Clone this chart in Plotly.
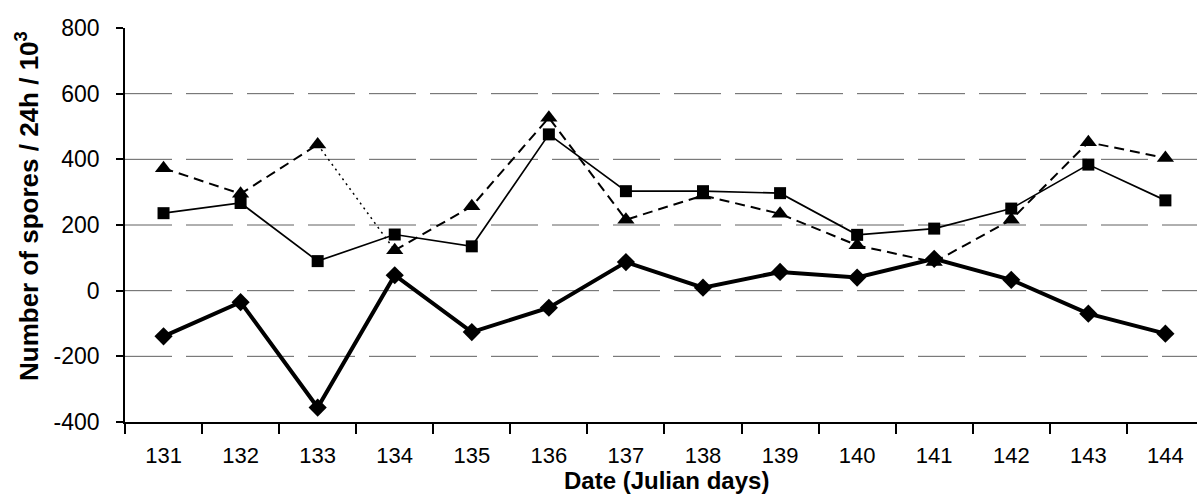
import plotly.graph_objects as go

days = ["131", "132", "133", "134", "135", "136", "137", "138", "139", "140", "141", "142", "143", "144"]
squares = [236, 267, 90, 171, 135, 476, 303, 303, 297, 170, 189, 250, 384, 275]
triangles = [373, 295, 445, 123, 257, 527, 216, 290, 234, 138, 87, 216, 452, 404]
diamonds = [-139, -35, -356, 47, -126, -52, 87, 9, 57, 40, 97, 33, -70, -131]
y_ticks = [-400, -200, 0, 200, 400, 600, 800]
y_tick_text = ["-400", "-200", "0", "200", "400", "600", "800"]
grid_levels = [-200, 0, 200, 400, 600]

W, H = 1197, 495
L, R, T, B = 125, 0, 28, 73
pw = W - L - R
ph = H - T - B

fig = go.Figure()

# Triangle series: dashed, with a dotted segment 133-134
fig.add_trace(go.Scatter(x=days[:3], y=triangles[:3], mode="lines",
                         line=dict(color="black", width=2, dash="10px,6px"), showlegend=False))
fig.add_trace(go.Scatter(x=days[2:4], y=triangles[2:4], mode="lines",
                         line=dict(color="black", width=1.5, dash="2px,4px"), showlegend=False))
fig.add_trace(go.Scatter(x=days[3:], y=triangles[3:], mode="lines",
                         line=dict(color="black", width=2, dash="10px,6px"), showlegend=False))
fig.add_trace(go.Scatter(x=days, y=triangles, mode="markers",
                         marker=dict(symbol="triangle-up", size=15, color="black"), showlegend=False))

# Square series: thin solid
fig.add_trace(go.Scatter(x=days, y=squares, mode="lines+markers",
                         line=dict(color="black", width=1.7),
                         marker=dict(symbol="square", size=12, color="black"), showlegend=False))

# Diamond series: thick solid
fig.add_trace(go.Scatter(x=days, y=diamonds, mode="lines+markers",
                         line=dict(color="black", width=4),
                         marker=dict(symbol="diamond", size=14, color="black"), showlegend=False))

for g in grid_levels:
    fig.add_shape(type="line", xref="paper", yref="y", x0=0, x1=1, y0=g, y1=g,
                  line=dict(color="#606060", width=1, dash="47px,14px"), layer="below")

fig.update_layout(
    width=W, height=H,
    margin=dict(l=L, r=R, t=T, b=B, pad=0),
    plot_bgcolor="white", paper_bgcolor="white",
    font=dict(family="Liberation Sans, Arial, sans-serif", color="black", size=22),
    xaxis=dict(type="category", range=[-0.5, 13.41], tickson="boundaries",
               showgrid=False, zeroline=False, showline=True, linecolor="black", linewidth=1.5,
               ticks="outside", ticklen=10, tickcolor="black", tickwidth=1.5,
               tickfont=dict(size=22), ticklabelstandoff=13, automargin=False),
    yaxis=dict(range=[-400, 800], tickvals=y_ticks, ticktext=y_tick_text,
               showgrid=False, zeroline=False,
               showline=True, linecolor="black", linewidth=1.5,
               ticks="outside", ticklen=7, tickcolor="black", tickwidth=1.5,
               tickfont=dict(size=23), ticklabelstandoff=12, automargin=False),
    annotations=[
        dict(text="<b>Date (Julian days)</b>", xref="paper", yref="paper",
             x=(666 - L) / pw, y=(H - B - 480) / ph, xanchor="center", yanchor="middle",
             showarrow=False, font=dict(size=24)),
        dict(text="<b>Number of spores / 24h / 10<sup>3</sup></b>", xref="paper", yref="paper",
             x=(27 - L) / pw, y=(H - B - 206) / ph, xanchor="center", yanchor="middle",
             textangle=-90, showarrow=False, font=dict(size=26)),
    ],
)

fig.write_html("out.html", config={"displayModeBar": False},
               post_script="document.body.style.margin='0';document.body.style.overflow='hidden';")
